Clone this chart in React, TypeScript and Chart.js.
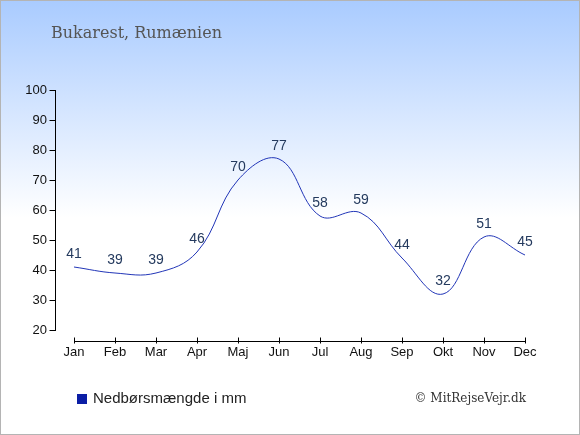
import React, { useRef, useEffect } from 'react';
import { Chart, registerables } from 'chart.js';

Chart.register(...registerables);

// data
const months = ['Jan', 'Feb', 'Mar', 'Apr', 'Maj', 'Jun', 'Jul', 'Aug', 'Sep', 'Okt', 'Nov', 'Dec'];
const rainfall = [41, 39, 39, 46, 70, 77, 58, 59, 44, 32, 51, 45];
const yTicks = [20, 30, 40, 50, 60, 70, 80, 90, 100];

const titleText = 'Bukarest, Rumænien';
const seriesLabel = 'Nedbørsmængde i mm';
const creditText = '© MitRejseVejr.dk';

const W = 580;
const H = 435;

const App: React.FC = () => {
  const chartRef = useRef<HTMLCanvasElement>(null);
  const chartInstanceRef = useRef<Chart | null>(null);

  useEffect(() => {
    if (!chartRef.current) return;
    const ctx = chartRef.current.getContext('2d');
    if (!ctx) return;

    if (chartInstanceRef.current) {
      chartInstanceRef.current.destroy();
    }

    const decorations = {
      id: 'decorations',
      beforeDraw(chart: any) {
        const c = chart.ctx;
        c.save();
        const grad = c.createLinearGradient(0, 0, 0, H);
        grad.addColorStop(0, '#a9cbff');
        grad.addColorStop(0.5, '#ffffff');
        grad.addColorStop(1, '#ffffff');
        c.fillStyle = grad;
        c.fillRect(0, 0, W, H);
        c.strokeStyle = '#b4b4b4';
        c.lineWidth = 1;
        c.strokeRect(0.5, 0.5, W - 1, H - 1);

        // title
        c.fillStyle = '#555555';
        c.font = '16px "DejaVu Serif", serif';
        c.textAlign = 'left';
        c.textBaseline = 'alphabetic';
        c.fillText(titleText, 51, 38);
        c.restore();
      },
      afterDraw(chart: any) {
        const c = chart.ctx;
        const xs = chart.scales.x;
        const ys = chart.scales.y;
        const area = chart.chartArea;
        c.save();
        c.strokeStyle = '#000000';
        c.lineWidth = 1;

        // y axis
        const ax = Math.round(area.left) + 0.5;
        c.beginPath();
        c.moveTo(ax, Math.round(ys.getPixelForValue(yTicks[yTicks.length - 1])));
        c.lineTo(ax, Math.round(ys.getPixelForValue(yTicks[0])) + 1);
        yTicks.forEach(v => {
          const py = Math.round(ys.getPixelForValue(v)) + 0.5;
          c.moveTo(ax - 6, py);
          c.lineTo(ax, py);
        });
        c.stroke();

        // x axis, detached below the plot
        const ay = Math.round(area.bottom) + 11.5;
        c.beginPath();
        c.moveTo(Math.round(xs.getPixelForValue(0)), ay);
        c.lineTo(Math.round(xs.getPixelForValue(months.length - 1)) + 1, ay);
        months.forEach((_, i) => {
          const px = Math.round(xs.getPixelForValue(i)) + 0.5;
          c.moveTo(px, ay - 4);
          c.lineTo(px, ay + 2);
        });
        c.stroke();

        // legend
        const ds = chart.data.datasets[0];
        c.fillStyle = ds.backgroundColor;
        c.fillRect(77, 394, 10, 10);
        c.fillStyle = '#222222';
        c.font = '15px "Liberation Sans", Arial, sans-serif';
        c.textAlign = 'left';
        c.textBaseline = 'alphabetic';
        c.fillText(ds.label, 93, 403);

        // credit
        c.fillStyle = '#333333';
        c.font = '12px "DejaVu Serif", serif';
        c.textAlign = 'right';
        c.fillText(creditText, 526, 402);
        c.restore();
      },
      afterDatasetsDraw(chart: any) {
        const c = chart.ctx;
        const meta = chart.getDatasetMeta(0);
        c.save();
        c.fillStyle = '#243a5e';
        c.font = '14px "Liberation Sans", Arial, sans-serif';
        c.textAlign = 'center';
        c.textBaseline = 'middle';
        meta.data.forEach((pt: any, i: number) => {
          c.fillText(String(rainfall[i]), pt.x, pt.y - 13);
        });
        c.restore();
      }
    };

    chartInstanceRef.current = new Chart(ctx, {
      type: 'line',
      data: {
        datasets: [{
          label: seriesLabel,
          data: rainfall.map((v, i) => ({ x: i, y: v })),
          borderColor: '#2236b8',
          backgroundColor: '#0b1ea5',
          borderWidth: 1,
          pointRadius: 0,
          tension: 0.4,
          fill: false
        }]
      },
      options: {
        responsive: false,
        animation: false,
        devicePixelRatio: 1,
        layout: { padding: { top: 90, right: 35, left: 0, bottom: 0 } },
        plugins: {
          legend: { display: false },
          title: { display: false },
          tooltip: { enabled: false }
        },
        scales: {
          x: {
            type: 'linear',
            min: -0.4634,
            max: 11.4878,
            grid: { display: false, drawTicks: false },
            border: { display: false },
            afterBuildTicks: (s: any) => {
              s.ticks = months.map((_, i) => ({ value: i }));
            },
            afterFit: (s: any) => {
              s.height = 105;
            },
            ticks: {
              autoSkip: false,
              maxRotation: 0,
              padding: 15,
              color: '#111111',
              font: { family: '"Liberation Sans", Arial, sans-serif', size: 13 },
              callback: (v: any) => months[v as number] ?? ''
            }
          },
          y: {
            min: 20,
            max: 100,
            grid: { display: false, drawTicks: false },
            border: { display: false },
            afterBuildTicks: (s: any) => {
              s.ticks = yTicks.map(v => ({ value: v }));
            },
            afterFit: (s: any) => {
              s.width = 55;
            },
            ticks: {
              padding: 8,
              color: '#111111',
              font: { family: '"Liberation Sans", Arial, sans-serif', size: 13 }
            }
          }
        }
      },
      plugins: [decorations]
    });

    return () => {
      if (chartInstanceRef.current) {
        chartInstanceRef.current.destroy();
        chartInstanceRef.current = null;
      }
    };
  }, []);

  return (
    <div style={{ position: 'absolute', left: 0, top: 0, width: W, height: H }}>
      <canvas ref={chartRef} width={W} height={H} />
    </div>
  );
};

export default App;
